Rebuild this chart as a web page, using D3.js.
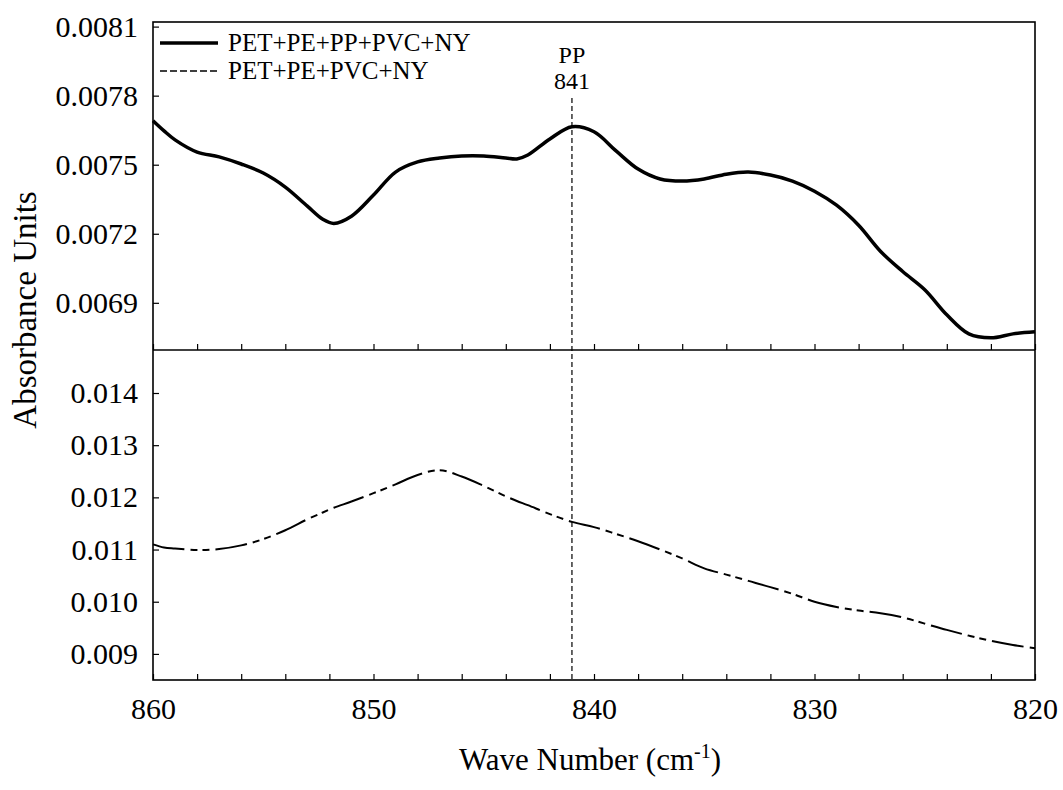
<!DOCTYPE html>
<meta charset="utf-8">

<!-- Load d3.js -->
<script src="https://d3js.org/d3.v7.min.js"></script>

<div id="my_dataviz"></div>

<style>
body { margin: 0; background: white; }
svg text { font-family: "Liberation Serif", "Times New Roman", Tinos, "DejaVu Serif", serif !important; fill: black; }
.tick line { stroke: black; stroke-width: 1.2px; }
</style>

<script>

// ---------------------------//
//        DATA                //
// ---------------------------//

// wave numbers (cm-1), shared by both spectra
var waveNumbers = [860, 859.5, 859, 858, 857, 856, 855, 854, 853, 852.3, 851.8, 851, 850, 849, 848,
  847, 846, 845, 844, 843.5, 843, 842, 841, 840, 839, 838, 837, 836, 835, 834, 833, 832, 831,
  830, 829, 828, 827, 826, 825, 824, 823, 822, 821, 820];

// PET+PE+PP+PVC+NY (top panel)
var absWithPP = [0.007691, 0.007647, 0.007608, 0.007555, 0.007534, 0.007503, 0.007464, 0.007403,
  0.007320, 0.007263, 0.007245, 0.007276, 0.007368, 0.007468, 0.007512, 0.007529, 0.007538,
  0.007538, 0.007529, 0.007525, 0.007542, 0.007612, 0.007665, 0.007643, 0.007560, 0.007481,
  0.007438, 0.007429, 0.007438, 0.007459, 0.007468, 0.007455, 0.007429, 0.007385, 0.007324,
  0.007237, 0.007123, 0.007036, 0.006957, 0.006848, 0.006765, 0.006748, 0.006765, 0.006774];

// PET+PE+PVC+NY (bottom panel)
var absNoPP = [0.01110, 0.01104, 0.01102, 0.01099, 0.01101, 0.01108, 0.01120, 0.01137, 0.01158,
  0.01171, 0.01180, 0.01192, 0.01208, 0.01225, 0.01243, 0.01252, 0.01240, 0.01222, 0.01202,
  0.01193, 0.01185, 0.01168, 0.01153, 0.01143, 0.01130, 0.01116, 0.01100, 0.01083, 0.01064,
  0.01052, 0.01040, 0.01028, 0.01015, 0.01000, 0.00990, 0.00983, 0.00978, 0.00970, 0.00958,
  0.00946, 0.00935, 0.00925, 0.00917, 0.00911];

var topTicks = [0.0069, 0.0072, 0.0075, 0.0078, 0.0081];
var bottomTicks = [0.009, 0.010, 0.011, 0.012, 0.013, 0.014];
var xTicks = d3.range(820, 861, 2);
var seriesNames = ["PET+PE+PP+PVC+NY", "PET+PE+PVC+NY"];
var markerWave = 841;

// ---------------------------//
//        LAYOUT              //
// ---------------------------//

var W = 1063, H = 790;
var plotLeft = 153, plotRight = 1035, plotTop = 22, plotSplit = 350, plotBottom = 680;
var serif = "Liberation Serif, Times New Roman, Tinos, DejaVu Serif, serif";

var svg = d3.select("#my_dataviz")
  .append("svg")
    .attr("width", W)
    .attr("height", H)
    .attr("font-family", serif);

var x = d3.scaleLinear()
  .domain([860, 820])
  .range([plotLeft, plotRight]);

var yTop = d3.scaleLinear()
  .domain([0.006695, 0.00812])
  .range([plotSplit, plotTop]);

var yBot = d3.scaleLinear()
  .domain([0.0085, 0.014824])
  .range([plotBottom, plotSplit]);

// ---------------------------//
//        AXES                //
// ---------------------------//

function styleAxis(g) {
  g.attr("font-family", serif);
  g.select(".domain").remove();
  g.selectAll("text").style("font-size", "30px");
}

svg.append("g")
  .attr("transform", "translate(" + plotLeft + ",0)")
  .call(d3.axisLeft(yTop).tickValues(topTicks).tickFormat(d3.format(".4f"))
    .tickSizeInner(-6).tickSizeOuter(0).tickPadding(15))
  .call(styleAxis);

svg.append("g")
  .attr("transform", "translate(" + plotLeft + ",0)")
  .call(d3.axisLeft(yBot).tickValues(bottomTicks).tickFormat(d3.format(".3f"))
    .tickSizeInner(-6).tickSizeOuter(0).tickPadding(15))
  .call(styleAxis);

// x ticks at the bottom of the top panel (no labels)
svg.append("g")
  .attr("transform", "translate(0," + plotSplit + ")")
  .call(d3.axisBottom(x).tickValues(xTicks).tickFormat("")
    .tickSizeInner(-6).tickSizeOuter(0))
  .call(styleAxis);

// x axis with labels
svg.append("g")
  .attr("transform", "translate(0," + plotBottom + ")")
  .call(d3.axisBottom(x).tickValues(xTicks)
    .tickFormat(function(d) { return d % 10 === 0 ? d : ""; })
    .tickSizeInner(-6).tickSizeOuter(0).tickPadding(18))
  .call(styleAxis);

// frames
svg.append("rect")
  .attr("x", plotLeft).attr("y", plotTop)
  .attr("width", plotRight - plotLeft).attr("height", plotBottom - plotTop)
  .style("fill", "none").style("stroke", "black").style("stroke-width", 1.6);

svg.append("line")
  .attr("x1", plotLeft).attr("x2", plotRight)
  .attr("y1", plotSplit).attr("y2", plotSplit)
  .style("stroke", "black").style("stroke-width", 1.6);

// axis titles
svg.append("text")
  .attr("transform", "translate(36,310) rotate(-90)")
  .attr("text-anchor", "middle")
  .style("font-size", "33px")
  .text("Absorbance Units");

var xt = svg.append("text")
  .attr("x", 590)
  .attr("y", 770)
  .attr("text-anchor", "middle")
  .style("font-size", "31px");
xt.append("tspan").text("Wave Number (cm");
xt.append("tspan").attr("dy", -12).style("font-size", "20px").text("-1");
xt.append("tspan").attr("dy", 12).text(")");

// ---------------------------//
//        MARKER LINE         //
// ---------------------------//

svg.append("line")
  .attr("x1", x(markerWave)).attr("x2", x(markerWave))
  .attr("y1", 98).attr("y2", plotBottom)
  .style("stroke", "black").style("stroke-width", 1.2)
  .style("stroke-dasharray", "5,3");

svg.append("text")
  .attr("x", x(markerWave)).attr("y", 63)
  .attr("text-anchor", "middle")
  .style("font-size", "24px")
  .text("PP");

svg.append("text")
  .attr("x", x(markerWave)).attr("y", 89)
  .attr("text-anchor", "middle")
  .style("font-size", "24px")
  .text(markerWave);

// ---------------------------//
//        CURVES              //
// ---------------------------//

var topData = waveNumbers.map(function(w, i) { return [w, absWithPP[i]]; });
var botData = waveNumbers.map(function(w, i) { return [w, absNoPP[i]]; });

var lineTop = d3.line()
  .x(function(d) { return x(d[0]); })
  .y(function(d) { return yTop(d[1]); })
  .curve(d3.curveCatmullRom);

var lineBot = d3.line()
  .x(function(d) { return x(d[0]); })
  .y(function(d) { return yBot(d[1]); })
  .curve(d3.curveCatmullRom);

var dashBot = "32,6,7,5,7,6";

svg.append("path")
  .datum(topData)
  .attr("d", lineTop)
  .style("fill", "none").style("stroke", "black").style("stroke-width", 3.5);

svg.append("path")
  .datum(botData)
  .attr("d", lineBot)
  .style("fill", "none").style("stroke", "black").style("stroke-width", 2)
  .style("stroke-dasharray", dashBot);

// ---------------------------//
//        LEGEND              //
// ---------------------------//

var legY = [43, 71];

svg.append("line")
  .attr("x1", 160).attr("x2", 218).attr("y1", legY[0]).attr("y2", legY[0])
  .style("stroke", "black").style("stroke-width", 3.5);

svg.append("line")
  .attr("x1", 160).attr("x2", 218).attr("y1", legY[1]).attr("y2", legY[1])
  .style("stroke", "black").style("stroke-width", 1.6)
  .style("stroke-dasharray", "7,3");

svg.selectAll("legtext")
  .data(seriesNames)
  .enter()
  .append("text")
    .attr("x", 228)
    .attr("y", function(d, i) { return legY[i] + 8; })
    .style("font-size", "25px")
    .text(function(d) { return d; });

</script>
